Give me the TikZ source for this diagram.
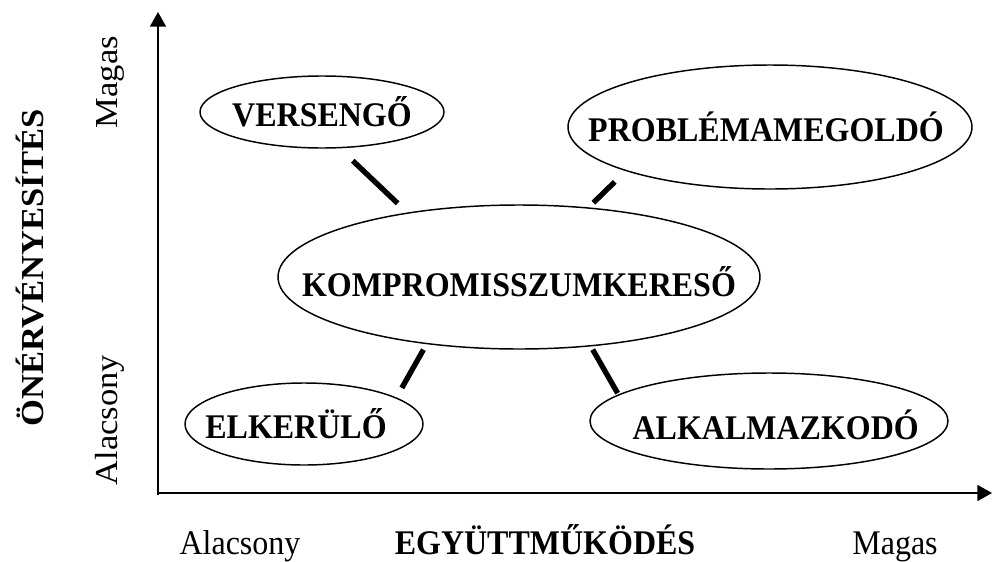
\documentclass[tikz,border=0pt]{standalone}
\usepackage{fontspec}
\setmainfont{Liberation Serif}
\usetikzlibrary{shapes.geometric,arrows.meta}

\tikzset{
  oval/.style={draw, ellipse, line width=1.1pt, inner sep=0pt},
  link/.style={line width=4pt},
  axis/.style={line width=1.3pt, -{Triangle[length=11pt,width=12pt]}},
  title/.style={font=\fontsize{24}{28}\selectfont\bfseries, yscale=1.08},
  tick/.style={font=\fontsize{24}{28}\selectfont, yscale=1.08}
}

\begin{document}
\begin{tikzpicture}[x=0.75pt,y=0.75pt,yscale=-1,xscale=1]
\useasboundingbox (0,0) rectangle (993,561);

%Axes
\draw[axis] (158,495) -- (158,12);
\draw[axis] (157,493) -- (992,493);

%Shape: Ellipse [versengo]
\node[oval, minimum width=183pt, minimum height=54pt, label={[title]center:VERSENGŐ}] (vers) at (322,112) {};
%Shape: Ellipse [problemamegoldo]
\node[oval, minimum width=303pt, minimum height=93pt, label={[title, xshift=-3pt]center:PROBLÉMAMEGOLDÓ}] (prob) at (770,127) {};
%Shape: Ellipse [kompromisszumkereso]
\node[oval, minimum width=361.5pt, minimum height=108pt, label={[title, yshift=-3pt]center:KOMPROMISSZUMKERESŐ}] (komp) at (519,277) {};
%Shape: Ellipse [elkerulo]
\node[oval, minimum width=178.5pt, minimum height=61.5pt, label={[title, xshift=-6pt]center:ELKERÜLŐ}] (elk) at (304,424) {};
%Shape: Ellipse [alkalmazkodo]
\node[oval, minimum width=268.5pt, minimum height=72pt, label={[title, xshift=5pt, yshift=-3pt]center:ALKALMAZKODÓ}] (alk) at (769,421) {};

%Links
\draw[link, shorten <=13.5pt, shorten >=10pt] (vers.-64.5) -- (komp.150.3);
\draw[link, shorten <=11.6pt, shorten >=5pt] (prob.-163.7) -- (komp.45.3);
\draw[link, shorten <=4.7pt, shorten >=8.2pt] (komp.-144.3) -- (elk.16.4);
\draw[link, shorten <=2.7pt, shorten >=1.1pt] (komp.-44.4) -- (alk.170.9);

% Text Node
\node[title, rotate=90, anchor=base] (ylabel) at (43,268) {ÖNÉRVÉNYESÍTÉS};
\node[tick, rotate=90, anchor=base] (yhigh) at (117,82) {Magas};
\node[tick, rotate=90, anchor=base] (ylow) at (117,420) {Alacsony};
% Text Node
\node[title, anchor=base] (xlabel) at (545,554) {EGYÜTTMŰKÖDÉS};
\node[tick, anchor=base] (xlow) at (240,554) {Alacsony};
\node[tick, anchor=base] (xhigh) at (895,554) {Magas};
\end{tikzpicture}
\end{document}
